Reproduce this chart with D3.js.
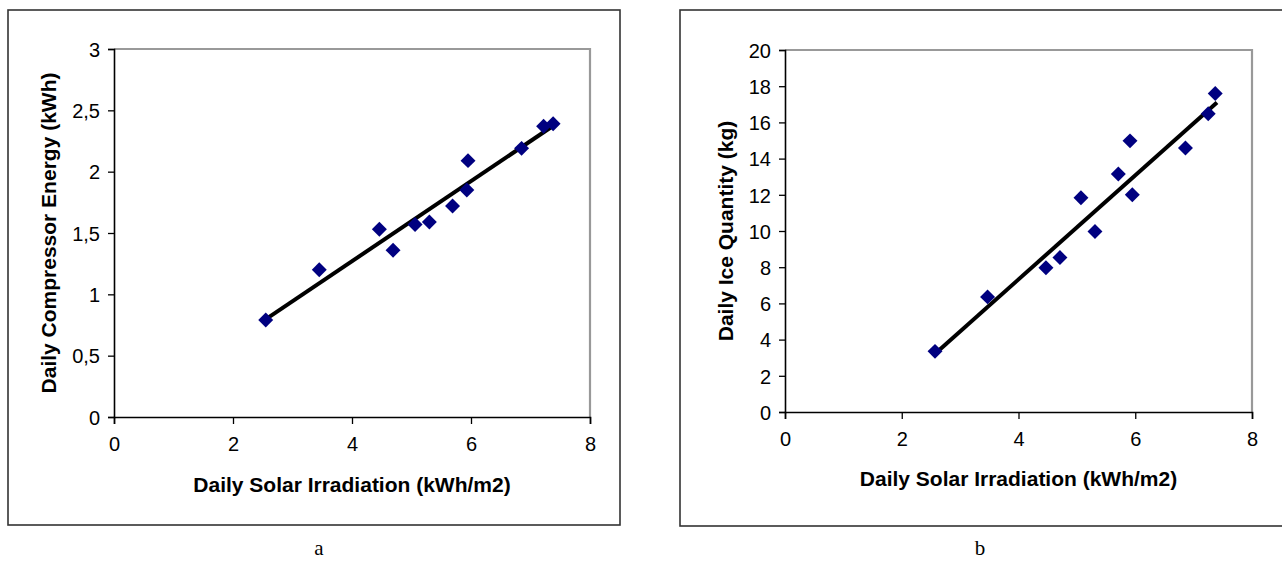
<!DOCTYPE html>
<html>
<head>
<meta charset="utf-8">
<script src="https://cdn.jsdelivr.net/npm/d3@7"></script>
<style>
  html,body{margin:0;padding:0;background:#fff;}
  svg{display:block;}
</style>
</head>
<body>
<svg id="chart"></svg>
<script>
// readings
const irrA=[2.55,3.45,4.46,4.69,5.06,5.30,5.69,5.93,5.95,6.85,7.22,7.38];
const energy=[0.79,1.20,1.53,1.36,1.57,1.59,1.72,1.85,2.09,2.19,2.37,2.39];
const trendA=[[2.56,0.80],[7.37,2.37]];

const irrB=[2.57,3.47,4.47,4.71,5.07,5.31,5.71,5.91,5.95,6.86,7.25,7.37];
const ice=[3.35,6.36,7.97,8.53,11.84,9.97,13.15,14.98,12.0,14.58,16.48,17.6];
const trendB=[[2.60,3.30],[7.40,17.10]];

const xTicks=[0,2,4,6,8];
const yTicksA=[0,0.5,1,1.5,2,2.5,3];
const yTicksB=[0,2,4,6,8,10,12,14,16,18,20];

const W=1282,H=561;
const SANS='"Liberation Sans",Arial,sans-serif';
const svg=d3.select('#chart').attr('width',W).attr('height',H);
const comma=d=>String(d).replace('.',',');

function panel(o){
  const g=svg.append('g');
  g.append('rect').attr('x',o.frame[0]).attr('y',o.frame[1]).attr('width',o.frame[2]).attr('height',o.frame[3])
    .attr('fill','none').attr('stroke','#333').attr('stroke-width',1.6);
  const x=d3.scaleLinear().domain([0,8]).range([o.plot[0],o.plot[1]]);
  const y=d3.scaleLinear().domain([0,o.ymax]).range([o.plot[3],o.plot[2]]);
  // gray top/right border
  g.append('path').attr('d',`M${x(0)},${y(o.ymax)}H${x(8)}V${y(0)}`).attr('fill','none').attr('stroke','#999').attr('stroke-width',2.2);
  const ax=g.append('g').attr('transform',`translate(0,${y(0)})`).call(d3.axisBottom(x).tickValues(xTicks).tickSize(7).tickPadding(13));
  const ay=g.append('g').attr('transform',`translate(${x(0)},0)`).call(d3.axisLeft(y).tickValues(o.yTicks).tickFormat(comma).tickSize(6).tickPadding(8));
  [ax,ay].forEach(a=>{
    a.select('.domain').attr('stroke','#000').attr('stroke-width',1.6);
    a.selectAll('.tick line').attr('stroke','#000').attr('stroke-width',1.3);
    a.selectAll('.tick text').attr('font-family',SANS).attr('font-size',20).attr('fill','#000');
  });
  ay.selectAll('.tick text').attr('dy','0.36em');
  g.append('path').datum(o.trend).attr('fill','none').attr('stroke','#000').attr('stroke-width',4)
    .attr('d',d3.line().x(d=>x(d[0])).y(d=>y(d[1])));
  const sym=d3.symbol(d3.symbolSquare,112);
  g.selectAll('.pt').data(o.xs.map((v,i)=>[v,o.ys[i]])).enter().append('path').attr('class','pt')
    .attr('d',sym).attr('fill','#000080')
    .attr('transform',d=>`translate(${x(d[0])},${y(d[1])}) rotate(45)`);
  g.append('text').attr('x',(x(0)+x(8))/2).attr('y',o.xtY).attr('text-anchor','middle')
    .attr('font-family',SANS).attr('font-size',21).attr('font-weight','bold').text('Daily Solar Irradiation (kWh/m2)');
  g.append('text').attr('transform',`translate(${o.ytX},${(y(0)+y(o.ymax))/2}) rotate(-90)`).attr('text-anchor','middle')
    .attr('font-family',SANS).attr('font-size',21).attr('font-weight','bold').text(o.ytitle);
  g.append('text').attr('x',o.cap[0]).attr('y',o.cap[1]).attr('text-anchor','middle')
    .attr('font-family','"Liberation Serif","Times New Roman",serif').attr('font-size',21).text(o.capText);
}

panel({frame:[8,10,612,515],plot:[114,590,49,417],ymax:3,yTicks:yTicksA,xs:irrA,ys:energy,trend:trendA,
  xtY:492,ytX:56,ytitle:'Daily Compressor Energy (kWh)',cap:[319,555],capText:'a'});
panel({frame:[680,10,612,516],plot:[785,1252,50,412],ymax:20,yTicks:yTicksB,xs:irrB,ys:ice,trend:trendB,
  xtY:486,ytX:733,ytitle:'Daily Ice Quantity (kg)',cap:[980,555],capText:'b'});
</script>
</body>
</html>
